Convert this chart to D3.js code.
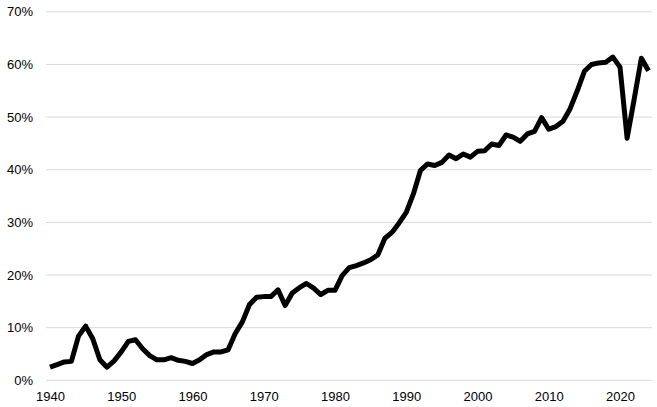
<!DOCTYPE html>
<html><head><meta charset="utf-8">
<script src="https://cdn.jsdelivr.net/npm/d3@7"></script>
<style>body{margin:0;background:#fff;}svg{display:block;}</style>
</head><body>
<svg id="c" width="657" height="407"></svg>
<script>
const years = d3.range(1940, 2025);
const values = [
 2.4, 2.9, 3.4, 3.5, 8.3, 10.2, 7.8, 3.8, 2.4, 3.6,
 5.3, 7.3, 7.6, 5.9, 4.6, 3.8, 3.8, 4.2, 3.7, 3.5,
 3.1, 3.8, 4.8, 5.3, 5.3, 5.7, 8.8, 11.0, 14.3, 15.7,
 15.8, 15.8, 17.1, 14.1, 16.5, 17.5, 18.3, 17.4, 16.2, 17.0,
 17.0, 19.8, 21.3, 21.7, 22.2, 22.8, 23.7, 26.9, 28.0, 29.8,
 31.8, 35.3, 39.8, 41.0, 40.7, 41.3, 42.7, 42.0, 42.9, 42.3,
 43.4, 43.5, 44.8, 44.5, 46.5, 46.1, 45.3, 46.7, 47.2, 49.8,
 47.6, 48.1, 49.1, 51.5, 54.9, 58.6, 59.9, 60.2, 60.3, 61.3,
 59.4, 45.9, 53.4, 61.1, 58.7
];
const yTicks = [0, 10, 20, 30, 40, 50, 60, 70];
const xTicks = [1940, 1950, 1960, 1970, 1980, 1990, 2000, 2010, 2020];

const svg = d3.select("#c");
const x = d3.scaleLinear().domain([1940, 2020]).range([50, 620]);
const y = d3.scaleLinear().domain([0, 70]).range([379.8, 11.3]);
const gridX0 = 46, gridX1 = 652;

const font = "'Liberation Sans', Arial, sans-serif";

const yAxis = svg.append("g")
  .call(d3.axisLeft(y).tickValues(yTicks).tickFormat(d => d + "%").tickSize(0).tickPadding(0));
yAxis.select(".domain").remove();
yAxis.selectAll("text").attr("x", 33).attr("dy", "0.35em")
  .style("font-family", font).style("font-size", "13px").attr("fill", "#000");
yAxis.selectAll(".tick").append("line")
  .attr("x1", gridX0).attr("x2", gridX1).attr("stroke", "#d9d9d9").attr("stroke-width", 1);

const xAxis = svg.append("g").attr("transform", "translate(0,386)")
  .call(d3.axisBottom(x).tickValues(xTicks).tickFormat(d3.format("d")).tickSize(0).tickPadding(0));
xAxis.select(".domain").remove();
xAxis.selectAll("text").attr("y", 6).attr("dy", "0.71em")
  .style("font-family", font).style("font-size", "13px").attr("fill", "#000");

const line = d3.line().x((d, i) => x(years[i])).y(d => y(d));
svg.append("path").datum(values)
  .attr("d", line).attr("fill", "none").attr("stroke", "#000")
  .attr("stroke-width", 5).attr("stroke-linejoin", "round").attr("stroke-linecap", "butt");
</script>
</body></html>
